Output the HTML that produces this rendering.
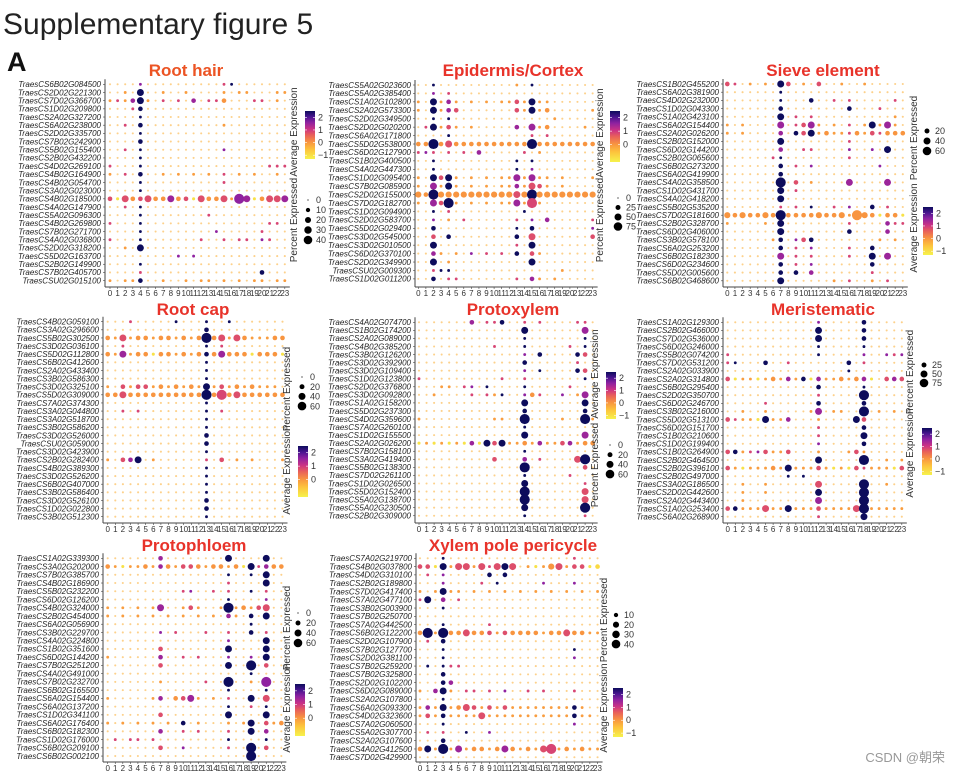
<!DOCTYPE html>
<html><head><meta charset="utf-8"><style>
body{margin:0;background:#fff}
svg{display:block;font-family:"Liberation Sans",Arial,sans-serif}
</style></head><body>
<svg id="fig" width="954" height="775" viewBox="0 0 954 775" xmlns="http://www.w3.org/2000/svg">
<defs><linearGradient id="cg" x1="0" y1="1" x2="0" y2="0">
<stop offset="0" stop-color="#f6f24c"/><stop offset="0.2" stop-color="#fdc23c"/><stop offset="0.35" stop-color="#f89540"/><stop offset="0.5" stop-color="#e8605a"/><stop offset="0.62" stop-color="#cc3384"/><stop offset="0.76" stop-color="#8f22a0"/><stop offset="0.88" stop-color="#4a1590"/><stop offset="1" stop-color="#0d0c5c"/></linearGradient></defs>
<text x="3" y="34" font-size="30" fill="#222">Supplementary figure 5</text>
<text x="7" y="71" font-size="27" font-weight="bold" fill="#111">A</text>
<text x="945" y="762" font-size="13" fill="#999" text-anchor="end" font-family="'Liberation Sans','Noto Sans CJK SC',sans-serif">CSDN @朝荣</text>
</svg>
<script>
// ---- data ----
const clusters = ["0","1","2","3","4","5","6","7","8","9","10","11","12","13","14","15","16","17","18","19","20","21","22","23"];
// code -> percent expressed (relative units) and average expression
const codeKeys = [",",".","o","y","p","m","d","O","Y","P","M","D","G","Q","R","B","K","L","N","H"];
const codePct  = [1,1.6,3,3.5,3,3,3,8,8,8,8,8,14,18,18,18,38,38,38,38];
const codeExpr = [-1,-0.4,-0.1,-1,0.8,1.5,2.4,0,-0.9,0.7,1.4,2.4,0,0.7,1.4,2.4,0,0.8,1.5,2.4];

const rhTitle = "Root hair";
const rhGenes = ["TraesCS6B02G084500","TraesCS2D02G221300","TraesCS7D02G366700","TraesCS1D02G209800","TraesCS2A02G327200","TraesCS6A02G238000","TraesCS2D02G335700","TraesCS7B02G242900","TraesCS5B02G155400","TraesCS2B02G432200","TraesCS4D02G269100","TraesCS4B02G164900","TraesCS4B02G054700","TraesCS3A02G023000","TraesCS4B02G185000","TraesCS4A02G147900","TraesCS5A02G096300","TraesCS4B02G269800","TraesCS7B02G271700","TraesCS4A02G036800","TraesCS2D02G318200","TraesCS5D02G163700","TraesCS2B02G149900","TraesCS7B02G405700","TraesCSU02G015100"];
const rhValues = ["....m..........pd.......","..o.B..o..o....o.oo...oo","opoMBo.p.p.M.ppO...pp.o.","...pD...................","....d...................","..p.D..........o........","....d...................","....D...................","..p.d..........m........","....d...................","p...d................ppp","o.p.D..o.o.o.o.p.o.o..o.","....d..........p........","....d...................","PyQOPQOOROPyQOOQoNRyOQQR","..p.d...................","....d........p..........","p...d................pp.","....d.........m.....p...","p...d.......p..p.pp.mp..","..o.B...................",".........m.m............","....d...................","....p...............D...","o.ooD..o..o.oo.o.o.oo.oo"];

const epTitle = "Epidermis/Cortex";
const epGenes = ["TraesCS5A02G023600","TraesCS5A02G385400","TraesCS1A02G102800","TraesCS2A02G573300","TraesCS2D02G349500","TraesCS2D02G020200","TraesCS6A02G171800","TraesCS5D02G538000","TraesCS6D02G127900","TraesCS1B02G400500","TraesCS4A02G447300","TraesCS1D02G095400","TraesCS7B02G085900","TraesCS2D02G155000","TraesCS7D02G182700","TraesCS1D02G094900","TraesCS2D02G583700","TraesCS5D02G029400","TraesCS3D02G545000","TraesCS3D02G010500","TraesCS6D02G370100","TraesCS2D02G349900","TraesCSU02G009300","TraesCS1D02G011200"];
const epValues = ["..d..........o.d........","..m.p...................","o.BoMo.o.o.ooPoBoo......","o.BoMP.......PoBoO.....o","..d.d.............o.....",".pBoPo.o.....M.RoO....o.","....d..........p.p......","OOHOQOOOOOOOOOOHOOOOOOOO","pmp.p.p.M.....p.o.......","..d..........d.d........","..d..........d.m........","o.BPBo.o.o.ooRoRoo.o...o","o.RoBo.o.o.ooMoQPo.o....","GOHGGGGGGGGGGQGHGGGGGGGG","o.RPHo.o.o.ooRoLo.......","..d.p.........d.........","..m.o.p......p.m.M.....p","..D..........d.D.......m","..P.D........D.Q.......P","..B..........p.B........","..Mo.o.m.p.p.D.Po.......","..B.o..........B........","..pdd..............o....","..D.pp.......p.Mo.o....."];

const seTitle = "Sieve element";
const seGenes = ["TraesCS1B02G455200","TraesCS6A02G381900","TraesCS4D02G232000","TraesCS1D02G043300","TraesCS1A02G423100","TraesCS6A02G154400","TraesCS2A02G026200","TraesCS2B02G152000","TraesCS6D02G144200","TraesCS2B02G065600","TraesCS6B02G273200","TraesCS6A02G419900","TraesCS4A02G358500","TraesCS1D02G431700","TraesCS4A02G418200","TraesCS5B02G535200","TraesCS7D02G181600","TraesCS2B02G328700","TraesCS6D02G406000","TraesCS3B02G578100","TraesCS6A02G253200","TraesCS6B02G182300","TraesCS6D02G234600","TraesCS5D02G005600","TraesCS6B02G468600"];
const seValues = ["Pp.o.o.BP.o.P..o..o.....",".......d................",".......d...D..p.p.....p.",".......D........D...p...",".......B.p.p..........o.","o.o....R.pPRo.o.p.oBoRo.","o.o....M.DPBoOoopOoPpOOO",".......B........p.......",".......M..pp....m..m.B..","......pd........p.......",".......D.p.m........m...",".......D................",".......H.P.o....R....R..",".......B.p..............",".......B................",".......p.p.d..p.m..D.p..","GOGOOGOHOOOOGOOGoKGOyOOy","o....o.B........p....Mpp",".......B........D....M..","......oD.mPD........o.o.",".......D.p.m....p..D....",".......R.p.p....p..B.R..",".......D.p.m.......D....",".......D.D.M.......p....",".......B......o.p..o.p.."];

const rcTitle = "Root cap";
const rcGenes = ["TraesCS4B02G059100","TraesCS3A02G296600","TraesCS5B02G302500","TraesCS3D02G036100","TraesCS5D02G112800","TraesCS6B02G412600","TraesCS2A02G433400","TraesCS3B02G586300","TraesCS3D02G325100","TraesCS5D02G309000","TraesCS7A02G374300","TraesCS3A02G044800","TraesCS3A02G518700","TraesCS3B02G586200","TraesCS3D02G526000","TraesCSU02G059000","TraesCS3D02G423900","TraesCS2B02G282400","TraesCS4B02G389300","TraesCS3D02G526200","TraesCS6B02G407000","TraesCS3B02G586400","TraesCS3D02G526100","TraesCS1D02G022800","TraesCS3B02G512300"];
const rcValues = ["...p.....d...d..d.......",".............D..........","OoQoOOoOOoOoOHOQoQOoooOO","..p..........d.p........","OoRoOOyOOoOoODOROOOyOOOy",".............d..........",".............d..........",".............d..........","o.PoPPoOoOoOoBoPoOoOooo.","OOQOOOOOOOOOOHOLOQOOOOOO",".............d..........","..p.p........d.p........",".............d..........",".............d..........",".............D..........",".............D..........",".............d..........","o.PMB.o......p.P.o.o...o",".............d..........",".............d..........",".............d..........",".............d..........",".............D..........",".............D..........",".............d.........."];

const pxTitle = "Protoxylem";
const pxGenes = ["TraesCS4A02G074700","TraesCS1B02G174200","TraesCS2A02G089000","TraesCS4B02G385200","TraesCS3B02G126200","TraesCS3D02G392900","TraesCS3D02G109400","TraesCS1D02G123800","TraesCS2D02G376800","TraesCS3D02G092800","TraesCS1A02G158200","TraesCS5D02G237300","TraesCS4D02G359600","TraesCS7A02G260100","TraesCS1D02G155500","TraesCS2A02G026200","TraesCS7B02G158100","TraesCS3A02G419400","TraesCS5B02G138300","TraesCS7D02G261100","TraesCS1D02G026500","TraesCS5D02G152400","TraesCS5A02G138700","TraesCS5A02G230500","TraesCS2B02G309000"];
const pxValues = [".......M.ppD..p.p....pp.","..............B.......R.","..............d.......d.","..........p...d.....p.d.","..............m.D....DP.","..............D......p..","..............m.d....DP.","p..........p..p.......d.","...oo.pm.d....d.....p...","..o....p.pod..mOp..m.oR.","..............B.......B.","..............D.......D.","o.........oo..H....o..Ho","..............d.........","..............B.......R.","yoyoyoyMyBPBooOoMooPMoOO","..............d.........","..........P...M.p....QH.","..............H.......P.","..............d.....p...","..............B.......p.","..............H.......Q.","..............H.......Q.","..............B.......H.","..............d.......p."];

const mrTitle = "Meristematic";
const mrGenes = ["TraesCS1A02G129300","TraesCS2B02G466000","TraesCS7D02G536000","TraesCS6D02G246000","TraesCS5B02G074200","TraesCS7D02G531200","TraesCS2A02G033900","TraesCS2A02G314800","TraesCS6B02G295400","TraesCS2D02G350700","TraesCS6D02G246700","TraesCS3B02G216000","TraesCS5D02G513100","TraesCS6D02G151700","TraesCS1B02G210600","TraesCS1D02G199400","TraesCS1B02G264900","TraesCS2B02G464500","TraesCS2B02G396100","TraesCS2B02G497000","TraesCS3A02G186500","TraesCS2D02G442600","TraesCS2A02G443400","TraesCS1A02G253400","TraesCS6A02G268900"];
const mrValues = ["............m.....D.....","............B.....D.....","............B.....D.....","............d.....d.....","p...........d.....m..mpm","pd...D..p.......D.p.....","................d.......","PyooyoOoMoDyMooOoOMy.PMP","............D.....d.....","............p.....H.....",".....p......D.....D.....","..o..o.....oR.oo..H.o.o.","PpooyBooM...o....BP.....","............p.....D.....","............p.....B.....","............m.....D.....","PDopmPooP...o...oPo.....","............B.....H..o.o","PoyoooOoBoooPoyoyPpoooyP","........d.d.............","..o..o......Q.....H..o..","..o..o......B.....H.....","..o.........R.....H.....","PDoooQooBoooPooooQHooooo","............p.....B....."];

const ppTitle = "Protophloem";
const ppGenes = ["TraesCS1A02G339300","TraesCS3A02G202000","TraesCS7B02G385700","TraesCS4B02G186900","TraesCS5B02G232200","TraesCS6D02G126200","TraesCS4B02G324000","TraesCS2B02G454000","TraesCS6A02G056900","TraesCS3B02G229700","TraesCS4A02G224800","TraesCS1B02G351600","TraesCS6D02G144200","TraesCS7B02G251200","TraesCS4A02G491000","TraesCS7B02G232700","TraesCS6B02G165500","TraesCS6A02G154400","TraesCS6A02G137200","TraesCS1D02G341100","TraesCS6A02G176400","TraesCS6B02G182300","TraesCS1D02G176000","TraesCS6B02G209100","TraesCS6B02G002100"];
const ppValues = [".......M........B....B..","OoyooOoMOoPPOoOOoOyBpMOO","................d..d.B..","................p....B..","..........pm..p.p..d.p..","................d....m..","o.o.o.oR..oPo..oHoOoPQ..","o.o.o.o.o.o.o.o.Mo.D.B..","...................d....",".......m.p...p..p..D.p..","................m....B..",".......P........B....B..","o......M..p.p...m..m.B..",".......P........B..H.P..","...................d....",".......o.....p..H..o.N..","................d....d..","o.....oM.OPRo.o.p..B.Q..","................d..p.d..",".......P........B....B..","o.o.o.o.o.D.o...o.oB.PoO",".......M..p.p...p..B.M..",".p.pp.p.........d....d..",".......P..m.....p..H.P..","...................H...."];

const xpTitle = "Xylem pole pericycle";
const xpGenes = ["TraesCS7A02G219700","TraesCS4B02G037800","TraesCS4D02G310100","TraesCS2B02G189800","TraesCS7D02G417400","TraesCS7A02G477100","TraesCS3B02G003900","TraesCS7B02G250700","TraesCS7A02G442500","TraesCS6B02G122200","TraesCS2D02G107900","TraesCS7B02G127700","TraesCS2D02G381100","TraesCS7B02G259200","TraesCS7B02G325800","TraesCS2D02G102200","TraesCS6D02G089000","TraesCS2A02G107800","TraesCS6A02G093300","TraesCS4D02G323600","TraesCS7A02G060500","TraesCS5A02G307700","TraesCS2A02G107600","TraesCS4A02G412500","TraesCS7D02G429900"];
const xpValues = ["...d................p...","PPyBoQQoQpQBQ.oyoGQoPPyY",".p.m.....D.D............","...m....p.d.....m...m...","o.oBoo.o.o.o.o.o.o.o.o.o","pB.M.p..................","...d....................","........................","...d.....p..............","OHoHOOQOOPoPOOOOoOOQOOoo",".p.D....................","...d................d...","...d................m...",".d.dpp..................","...D....................","...DM...................","o.MBo.pp.p.m..p.p...p...","...d....................","oMoBoOQPoPoPooooooooDo..","oPoDooooQoooooooooooDoo.","...d................m...",".p.p..d..m..............","...D....................","OBoHoRoOOoOROoOoQLoOoOoo","........................"];

const sizeLegRH = [0,10,20,30,40];
const sizeLegEP = [0,25,50,75];
const sizeLegSE = [20,40,60];
const sizeLegRC = [0,20,40,60];
const sizeLegPX = [0,20,40,60];
const sizeLegMR = [25,50,75];
const sizeLegPP = [0,20,40,60];
const sizeLegXP = [10,20,30,40];
const cbarTicks4 = [2,1,0,-1];
const cbarTicks3 = [2,1,0];

// ---- drawing ----
const NS="http://www.w3.org/2000/svg";
const svg=document.getElementById('fig');
const stops=[[-1.2,[246,242,76]],[-0.6,[253,194,60]],[0,[248,149,64]],[0.5,[232,96,90]],[1.0,[204,51,132]],[1.5,[143,34,160]],[2.0,[74,21,144]],[2.4,[13,12,92]]];
function colorOf(v){
  if(v<=stops[0][0])return 'rgb('+stops[0][1]+')';
  for(let i=1;i<stops.length;i++){if(v<=stops[i][0]){const a=stops[i-1],b=stops[i],t=(v-a[0])/(b[0]-a[0]);
    return 'rgb('+a[1].map((c,k)=>Math.round(c+(b[1][k]-c)*t)).join(',')+')';}}
  return 'rgb('+stops[stops.length-1][1]+')';
}
function mk(tag,attrs,parent){const e=document.createElementNS(NS,tag);for(const k in attrs)e.setAttribute(k,attrs[k]);(parent||svg).appendChild(e);return e;}

function drawPanel(key,title,genes,values,L,sizeVals,ticks){
  const g=mk('g',{});
  
  
  const xOf=i=>L.x0+i*L.dx, yOf=j=>L.y0+j*L.dy;
  const t=mk('text',{x:L.tx,y:L.ty,'font-size':17,'font-weight':'bold',fill:L.tc||'#e8332a','text-anchor':'middle'},g);
  t.textContent=title;
  
  
  const axY=mk('line',{x1:L.ax,y1:L.y0-5,x2:L.ax,y2:L.bottom,stroke:'#444','stroke-width':1},g);
  
  
  const axX=mk('line',{x1:L.ax,y1:L.bottom,x2:xOf(clusters.length-1)+5,y2:L.bottom,stroke:'#444','stroke-width':1},g);
  
  
  genes.forEach((gn,j)=>{
    const tx=mk('text',{x:L.ax-4,y:yOf(j)+2.8,'font-size':8,'font-style':'italic',fill:'#222','text-anchor':'end'},g);
    tx.textContent=gn;
    
    
    mk('line',{x1:L.ax-2,y1:yOf(j),x2:L.ax,y2:yOf(j),stroke:'#444','stroke-width':0.6},g);
    const row=values[j]||'';
    for(let i=0;i<clusters.length;i++){
      const k=codeKeys.indexOf(row[i]); if(k<0)continue;
      const pct=codePct[k], ex=codeExpr[k];
      const c=mk('circle',{cx:xOf(i),cy:yOf(j),r:(Math.sqrt(pct)*0.82).toFixed(2),fill:colorOf(ex),opacity:pct<=2?0.6:1},g);
      
      
    }
  });
  clusters.forEach((cl,i)=>{
    mk('line',{x1:xOf(i),y1:L.bottom,x2:xOf(i),y2:L.bottom+2,stroke:'#444','stroke-width':0.6},g);
    const tx=mk('text',{x:xOf(i),y:L.bottom+9,'font-size':8,fill:'#333','text-anchor':'middle'},g);
    tx.textContent=cl;
    
    
  });
  const cb=mk('rect',{x:L.cbx,y:L.cby,width:10,height:L.cbh,fill:'url(#cg)'},g);
  
  
  const lo=-1.3,hi=2.5;
  ticks.forEach(v=>{
    const y=L.cby+L.cbh*(hi-v)/(hi-lo);
    mk('line',{x1:L.cbx,y1:y,x2:L.cbx+2,y2:y,stroke:'#fff','stroke-width':0.6},g);
    mk('line',{x1:L.cbx+8,y1:y,x2:L.cbx+10,y2:y,stroke:'#fff','stroke-width':0.6},g);
    const tx=mk('text',{x:L.cbx+13,y:y+3,'font-size':9,fill:'#333'},g);
    tx.textContent=(v<0?'\u2212':'')+Math.abs(v);
    
    
  });
  const at=mk('text',{x:0,y:0,'font-size':10,fill:'#333','text-anchor':'middle',transform:`translate(${L.ltx+3},${L.acy}) rotate(-90)`},g);
  at.textContent='Average Expression';
  
  
  const st=mk('text',{x:0,y:0,'font-size':10,fill:'#333','text-anchor':'middle',transform:`translate(${L.ltx+3},${L.scy}) rotate(-90)`},g);
  st.textContent='Percent Expressed';
  
  
  const vmax=sizeVals[sizeVals.length-1];
  sizeVals.forEach((v,i)=>{
    const y=L.sy0+i*L.sdy;
    const c=mk('circle',{cx:L.sdx,cy:y,r:Math.max(0.6,4.3*Math.sqrt(v/vmax)).toFixed(2),fill:'#000'},g);
    
    
    const tx=mk('text',{x:L.sdx+8,y:y+3.2,'font-size':9,fill:'#333'},g);
    tx.textContent=v;
    
    
  });
}

drawPanel('root-hair',rhTitle,rhGenes,rhValues,{ax:105,x0:110,dx:7.6,y0:84.3,dy:8.18,bottom:287,tx:186,ty:76,tc:'#ec5424',cbx:305,cby:111,cbh:48,ltx:294,acy:132,scy:220,sdx:308,sy0:200,sdy:10},sizeLegRH,cbarTicks4);
drawPanel('epidermis-cortex',epTitle,epGenes,epValues,{ax:415,x0:418.3,dx:7.58,y0:85,dy:8.43,bottom:287,tx:513,ty:76,cbx:610,cby:111,cbh:51,ltx:600,acy:133,scy:220,sdx:618,sy0:198,sdy:9.5},sizeLegEP,cbarTicks3);
drawPanel('sieve-element',seTitle,seGenes,seValues,{ax:723,x0:727.3,dx:7.63,y0:84,dy:8.2,bottom:287,tx:823,ty:76,cbx:923,cby:207,cbh:48,ltx:914,acy:228,scy:138,sdx:927,sy0:131,sdy:10},sizeLegSE,cbarTicks4);
drawPanel('root-cap',rcTitle,rcGenes,rcValues,{ax:103,x0:107.7,dx:7.6,y0:321.7,dy:8.125,bottom:523,tx:193,ty:315,cbx:298,cby:446,cbh:51,ltx:287,acy:470,scy:389,sdx:302,sy0:377,sdy:9.7},sizeLegRC,cbarTicks3);
drawPanel('protoxylem',pxTitle,pxGenes,pxValues,{ax:415,x0:419,dx:7.55,y0:322.3,dy:8.06,bottom:523,tx:513,ty:315,cbx:606,cby:372,cbh:47,ltx:595,acy:374,scy:465,sdx:610,sy0:445,sdy:9.7},sizeLegPX,cbarTicks4);
drawPanel('meristematic',mrTitle,mrGenes,mrValues,{ax:723,x0:727.7,dx:7.57,y0:322.3,dy:8.1,bottom:523,tx:823,ty:315,cbx:922,cby:428,cbh:47,ltx:910,acy:453,scy:372,sdx:924,sy0:365,sdy:9},sizeLegMR,cbarTicks4);
drawPanel('protophloem',ppTitle,ppGenes,ppValues,{ax:103,x0:107.7,dx:7.55,y0:558.3,dy:8.24,bottom:762,tx:194,ty:551,cbx:295,cby:684,cbh:52,ltx:287,acy:708,scy:628,sdx:298,sy0:613,sdy:10},sizeLegPP,cbarTicks3);
drawPanel('xylem-pole-pericycle',xpTitle,xpGenes,xpValues,{ax:416,x0:420,dx:7.72,y0:558.3,dy:8.29,bottom:762,tx:513,ty:551,cbx:613,cby:688,cbh:49,ltx:604,acy:708,scy:620,sdx:616,sy0:615,sdy:9.7},sizeLegXP,cbarTicks4);
</script>
</body></html>
